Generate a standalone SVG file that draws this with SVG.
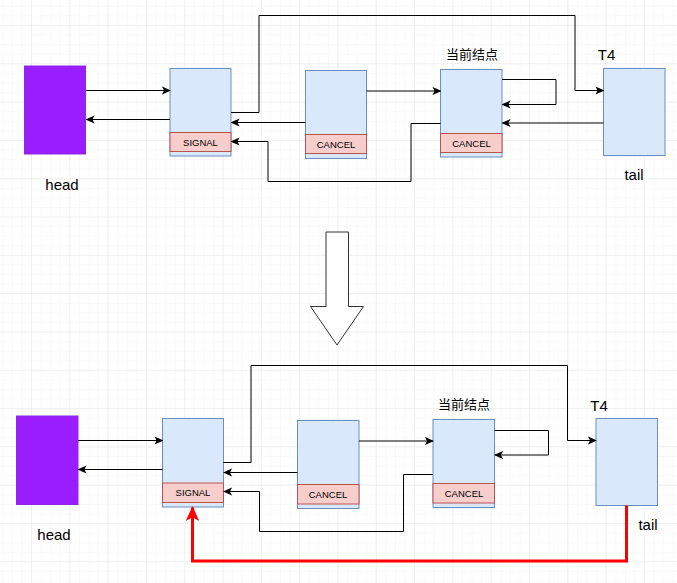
<svg xmlns="http://www.w3.org/2000/svg" width="677" height="583" viewBox="0 0 677 583">
<defs>
<pattern id="minor" x="31" y="25" width="9.58" height="9.58" patternUnits="userSpaceOnUse">
<path d="M0 0 H9.58 M0 0 V9.58" stroke="#f3f3f3" stroke-width="1" fill="none"/>
</pattern>
<pattern id="major" x="31" y="25" width="38.3" height="38.3" patternUnits="userSpaceOnUse">
<path d="M0 0 H38.3 M0 0 V38.3" stroke="#e6e6e6" stroke-width="1" fill="none"/>
</pattern>
<marker id="arr" viewBox="0 0 10 10" refX="9" refY="5" markerWidth="9" markerHeight="9" markerUnits="userSpaceOnUse" orient="auto">
<path d="M0,0.5 L10,5 L0,9.5 L2.5,5 Z" fill="#000"/>
</marker>
<marker id="arrRed" viewBox="0 0 10 10" refX="9" refY="5" markerWidth="15" markerHeight="15" markerUnits="userSpaceOnUse" orient="auto">
<path d="M0,0.5 L10,5 L0,9.5 L2.5,5 Z" fill="#ff0000"/>
</marker>
<style>
.bg{fill:#ffffff}
.node{fill:#dae8fc;stroke:#6c8ebf;stroke-width:1}
.band{fill:#f8cecc;stroke:#b85450;stroke-width:1}
.head{fill:#9a1dff;stroke:#8a2be2;stroke-width:1}
.lbl{font-family:"Liberation Sans",Arial,sans-serif;font-size:15px;fill:#000;text-anchor:middle}
.small{font-family:"Liberation Sans",Arial,sans-serif;font-size:9.5px;fill:#000;text-anchor:middle}
.cjk{font-family:"Liberation Sans","Noto Sans CJK SC",sans-serif;font-size:13px;fill:#000;text-anchor:middle}
.c{fill:none;stroke:#000;stroke-width:1;marker-end:url(#arr)}
.red{fill:none;stroke:#ff0000;stroke-width:3;marker-end:url(#arrRed)}
</style>
</defs>
<rect class="bg" x="0" y="0" width="677" height="583"/>
<rect x="0" y="0" width="677" height="583" fill="url(#minor)"/>
<rect x="0" y="0" width="677" height="583" fill="url(#major)"/>

<!-- Top section -->
<g id="top-head">
<rect class="head" x="24.5" y="66" width="61" height="88"/>
<text class="lbl" x="62" y="190">head</text>
</g>
<g id="top-signal">
<rect class="node" x="170" y="68.5" width="61" height="87.5"/>
<rect class="band" x="170" y="132.5" width="61" height="19"/>
<text class="small" x="200.5" y="145.5">SIGNAL</text>
</g>
<g id="top-cancel">
<rect class="node" x="305.5" y="70.5" width="61" height="88"/>
<rect class="band" x="305.5" y="134.5" width="61" height="19"/>
<text class="small" x="336" y="147.5">CANCEL</text>
</g>
<g id="top-current">
<rect class="node" x="440.5" y="69.5" width="61.5" height="87.5"/>
<rect class="band" x="440.5" y="133.5" width="61.5" height="19"/>
<text class="small" x="471.5" y="146.5">CANCEL</text>
<text class="cjk" x="472" y="59">当前结点</text>
</g>
<g id="top-t4">
<rect class="node" x="603.5" y="68.5" width="61.5" height="87"/>
<text class="lbl" x="606.5" y="60">T4</text>
<text class="lbl" x="634" y="180">tail</text>
</g>

<g id="top-connectors">
<path class="c" d="M86 90.5 H170"/>
<path class="c" d="M170 119.5 H86.5"/>
<path class="c" d="M231 112.5 H259 V15.5 H575 V90.5 H603.5"/>
<path class="c" d="M305.5 122.5 H231.5"/>
<path class="c" d="M440.5 123.5 H411 V181.5 H268 V141.5 H231.5"/>
<path class="c" d="M366.5 91 H440.5"/>
<path class="c" d="M502 79.5 H556 V104.5 H502.5"/>
<path class="c" d="M603.5 123 H502.5"/>
</g>

<g id="big-arrow">
<path d="M326 232 H348.5 V306.5 H363.5 L337 345 L310.5 306.5 H326 Z" fill="#ffffff" stroke="#333" stroke-width="1"/>
</g>

<!-- Bottom section -->
<g id="bot-head">
<rect class="head" x="16.5" y="416" width="61.5" height="88.5"/>
<text class="lbl" x="54" y="540">head</text>
</g>
<g id="bot-signal">
<rect class="node" x="162.5" y="418.5" width="61" height="88.5"/>
<rect class="band" x="162.5" y="483" width="61" height="19.5"/>
<text class="small" x="193" y="496">SIGNAL</text>
</g>
<g id="bot-cancel">
<rect class="node" x="297.5" y="420.5" width="61.5" height="88"/>
<rect class="band" x="297.5" y="484.5" width="61.5" height="19.5"/>
<text class="small" x="328" y="497.5">CANCEL</text>
</g>
<g id="bot-current">
<rect class="node" x="433" y="419.5" width="61.5" height="88"/>
<rect class="band" x="433" y="483.5" width="61.5" height="19.5"/>
<text class="small" x="464" y="496.5">CANCEL</text>
<text class="cjk" x="464" y="409">当前结点</text>
</g>
<g id="bot-t4">
<rect class="node" x="596" y="418.5" width="61.5" height="87"/>
<text class="lbl" x="599" y="410.5">T4</text>
<text class="lbl" x="648" y="530">tail</text>
</g>

<g id="bot-connectors">
<path class="c" d="M78 440.5 H162.5"/>
<path class="c" d="M162.5 469.5 H78.5"/>
<path class="c" d="M223.5 462.5 H251 V365.5 H567.5 V440.5 H596"/>
<path class="c" d="M297.5 472.5 H224"/>
<path class="c" d="M433 474.5 H403.5 V531.5 H259.5 V491.5 H224"/>
<path class="c" d="M359 441 H433"/>
<path class="c" d="M494.5 430.5 H548.5 V455 H495"/>
<path class="red" d="M626.5 505.5 V561 H192.5 V507.5"/>
</g>
</svg>
